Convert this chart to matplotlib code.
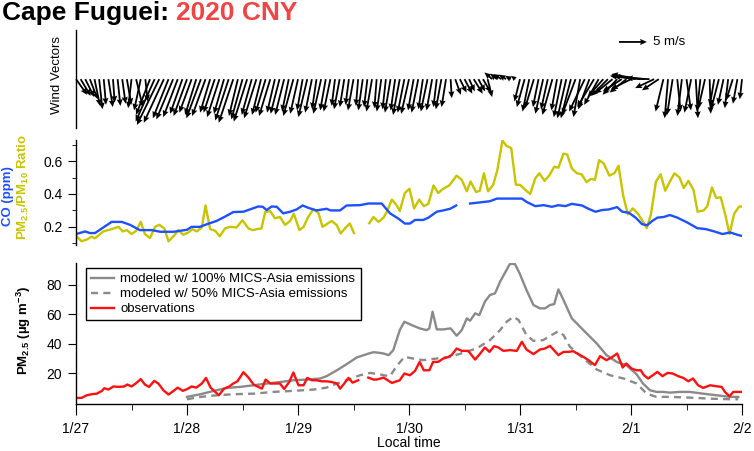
import numpy as np
import matplotlib.pyplot as plt
from matplotlib.ticker import MultipleLocator

plt.rcParams['font.family'] = 'Liberation Sans'
plt.rcParams['mathtext.fontset'] = 'custom'
plt.rcParams['mathtext.rm'] = 'Liberation Sans'
plt.rcParams['mathtext.bf'] = 'Liberation Sans:bold'
plt.rcParams['mathtext.it'] = 'Liberation Sans:italic'

nan = np.nan

# hourly wind vectors (m/s), hour 0 = 1/27 00:00
wind_u = [2.0, 1.8, 1.6, 1.4,
          1.0, 0.6, 0.4, 0.8, 0.3, 0.5, 0.6,
          0.8, -0.6, 1.2, -1.2, 0.4,
          -2.5, -3.4, -4.0, -3.6, -2.8, -3.0, -2.6, -2.2, -2.4,
          -2.2, -2.0, -2.6, -2.4, -1.8,
          -2.0, -2.2, -1.8, -2.4, -2.6, -1.6, -2.0, -2.4, -1.8, -2.2, -1.6, -1.8, -2.0, -1.4, -1.6,
          -1.6, -1.2, -1.8, -1.4, -1.0, -1.6, -1.2, -0.8, -1.4, -1.0, -1.2, -0.6, -1.0,
          -0.8, -0.6, -1.0, -0.4, -0.8, -0.6, -1.0, -0.4, -0.8, -0.6, -1.0, -0.8, -1.2,
          -1.2, -1.4, -1.0, -1.2, -0.8, -1.2, -1.0, -0.6, -1.0, -0.8, 0.2,
          1.0, 1.2, 1.4, 1.0, 1.6, 1.2, 1.4, 0.8,
          -1.4, -1.2, -1.5, -1.3, -1.0, -0.8,
          -1.0, -1.4, -1.2, -1.6, -1.0, -1.4, -1.2, -1.8, -1.0, -1.4, -1.6,
          -1.8, -2.4, -1.2, -2.8, -2.0, -3.0, -2.6,
          -2.8, -3.0, -3.2, -2.6, -3.4, -3.0, -3.6,
          -4.6, -5.2, -5.6, -4.2,
          -3.4, -3.0, -1.4,
          -0.6, -1.0, 0.6, -0.8, 0.8, -1.2, 0.4, -0.6, -1.2, 0.2, -0.8, -1.4, -1.0, -0.6, -1.2, -0.8, -0.4]
wind_v = [-2.8, -3.0, -3.2, -3.6,
          -4.8, -5.4, -4.6, -5.0, -4.2, -4.8, -4.4,
          -4.6, -5.2, -5.0, -5.6, -4.0,
          -6.4, -7.6, -8.2, -7.8, -7.0, -7.2, -6.8, -6.2, -6.6,
          -6.0, -6.4, -7.0, -6.6, -6.0,
          -6.0, -6.8, -6.2, -7.4, -7.8, -6.6, -7.2, -7.6, -6.4, -7.0, -6.4, -6.0, -6.6, -6.0, -6.2,
          -6.4, -5.8, -6.6, -6.2, -5.6, -6.8, -6.0, -5.4, -6.2, -5.6, -5.8, -4.8, -5.4,
          -5.0, -4.6, -5.6, -4.8, -5.6, -5.0, -5.8, -5.2, -5.8, -5.4, -6.0, -5.6, -6.4,
          -6.0, -6.2, -5.6, -6.0, -5.4, -5.8, -5.6, -5.0, -5.4, -5.0, -3.4,
          -2.8, -2.4, -2.6, -2.2, -2.6, -2.2, -2.4, -3.2,
          1.2, 1.0, 0.9, 0.8, 0.6, 0.6,
          -4.0, -5.0, -5.8, -5.2, -5.0, -6.2, -5.4, -6.4, -5.6, -6.8, -7.0,
          -7.0, -6.4, -6.8, -5.8, -5.4, -5.0, -4.6,
          -3.2, -3.0, -2.6, -2.8, -2.2, -2.4, -1.8,
          0.6, 0.9, 0.5, 0.2,
          -1.6, -2.0, -5.8,
          -7.0, -6.4, -5.8, -6.6, -5.6, -6.0, -7.0, -5.8, -5.2, -6.2, -4.8, -5.4, -4.6, -5.2, -3.8, -4.4, -3.6]
wind_t = np.arange(len(wind_u))

# CO (ppm)
co_t = [0, 2, 3, 4.1, 5.9, 7.7, 9.9, 11.7, 13.8, 16.4, 18.2, 21.1, 24, 25, 26.8, 28.3, 30.4,
        32.2, 34, 36.2, 38, 39.4, 40.4, 41.2, 42.3, 43.4, 44.8, 46.3, 47.7, 49, 50.2, 52,
        54.2, 55, 57.1, 58.5, 61.4, 63.2, 66.1, 67.9, 69.7, 71.1, 72.2, 73.3, 75.1, 76.2,
        78, 79.4, 80.9, 82.2, 83.7, 85.2, 87.7, 89.5, 91, 93.9, 96.4, 97.4, 99.3, 101.1,
        102.9, 104.3, 105.8, 107.2, 109.4, 110.8, 112.3, 113.7, 115.2, 117, 118.1, 119.5,
        121, 122.4, 123.5, 124.6, 125.7, 127.1, 128.4, 130, 132.2, 134.3, 136.2, 138,
        139.8, 141.4, 143.2, 144.6]
co_v = [0.156, 0.172, 0.162, 0.162, 0.196, 0.23, 0.23, 0.212, 0.18, 0.18, 0.17, 0.17,
        0.182, 0.2, 0.2, 0.216, 0.236, 0.262, 0.29, 0.292, 0.31, 0.324, 0.322, 0.302,
        0.324, 0.322, 0.282, 0.292, 0.306, 0.33, 0.316, 0.3, 0.31, 0.3, 0.3, 0.33, 0.332,
        0.342, 0.342, 0.282, 0.25, 0.22, 0.22, 0.242, 0.242, 0.256, 0.292, 0.3, 0.31,
        0.33, nan, 0.342, 0.35, 0.356, 0.372, 0.372, 0.372, 0.352, 0.326, 0.332, 0.322,
        0.332, 0.326, 0.34, 0.33, 0.31, 0.292, 0.302, 0.306, 0.32, 0.292, 0.286, 0.256,
        0.216, 0.21, 0.236, 0.256, 0.26, 0.272, 0.256, 0.226, 0.192, 0.186, 0.172, 0.156,
        0.166, 0.15, 0.14]

# PM2.5/PM10 ratio
ratio_t = [0, 1.2, 2.3, 3.4, 4.1, 5.9, 7.7, 9.2, 10.1, 11, 12, 13, 14, 14.9, 16, 17.1, 18,
           19.1, 20, 21.2, 22.1, 23.2, 24.3, 25.2, 26.1, 27.2, 28, 29, 30.1, 31.1, 32.2,
           33.3, 34.7, 36, 37.3, 38.2, 39.1, 40.1, 40.9, 42, 43, 44.1, 45.2, 46.3, 47.1,
           48.3, 49.2, 50.2, 51.3, 52.4, 53.3, 54.2, 55.3, 56.4, 57.2, 58.2, 59.2, 60.1,
           61.8, 63.4, 64.3, 65.4, 66.5, 67.2, 68.3, 69.3, 70, 71.1, 72.1, 73.1, 74.2, 75.2,
           76.2, 77.3, 78.3, 79.4, 80.7, 82.3, 83.4, 84.5, 85.3, 86.5, 87.3, 88.2, 89.1,
           90.2, 91.1, 92.2, 93.1, 94.1, 95.1, 96, 97.1, 98.2, 99.3, 100.2, 101.3, 102.3,
           103.4, 104.3, 105.4, 106.2, 107.2, 108.3, 109.3, 110.4, 111.3, 112.2, 113.1,
           114.1, 115.3, 116.4, 117.3, 118.3, 119.3, 120.4, 121.5, 122.5, 123.4, 124.3,
           125.4, 126.4, 127.4, 128.4, 129.4, 130.5, 131.4, 132.4, 133.5, 134.4, 135.7,
           136.5, 137.5, 138.4, 139.4, 140.4, 141.3, 142.3, 143.4, 144.3]
ratio_v = [0.146, 0.112, 0.122, 0.14, 0.13, 0.172, 0.186, 0.2, 0.172, 0.18, 0.156, 0.176,
           0.23, 0.156, 0.132, 0.2, 0.212, 0.19, 0.112, 0.146, 0.18, 0.152, 0.166, 0.186,
           0.172, 0.196, 0.33, 0.186, 0.176, 0.142, 0.19, 0.2, 0.196, 0.24, 0.19, 0.18,
           0.186, 0.19, 0.29, 0.296, 0.252, 0.26, 0.212, 0.236, 0.28, 0.18, 0.2, 0.26,
           0.306, 0.286, 0.2, 0.216, 0.236, 0.21, 0.16, 0.192, 0.22, 0.162,
           nan, 0.222, 0.26, 0.23, 0.256, 0.292, 0.366, 0.332, 0.296, 0.406, 0.432, 0.312,
           0.366, 0.326, 0.34, 0.452, 0.406, 0.432, 0.452, 0.512, 0.486, 0.416, 0.476,
           0.412, 0.42, 0.526, 0.416, 0.456, 0.546, 0.726, 0.692, 0.68, 0.456, 0.456,
           0.426, 0.4, 0.496, 0.526, 0.48, 0.512, 0.566, 0.56, 0.646, 0.64, 0.556, 0.526,
           0.52, 0.472, 0.492, 0.486, 0.606, 0.586, 0.512, 0.526, 0.572, 0.392, 0.276,
           0.312, 0.28, 0.236, 0.192, 0.276, 0.476, 0.52, 0.42, 0.476, 0.526, 0.5, 0.436,
           0.48, 0.426, 0.292, 0.3, 0.326, 0.44, 0.376, 0.38, 0.272, 0.156, 0.28, 0.324,
           0.324]

# PM2.5 observations (ug/m3)
obs_t = [0, 1.2, 2.3, 3.4, 4.5, 5.6, 6.1, 7, 8.1, 9.2, 10.4, 11.1, 12, 12.9, 14, 14.9,
         15.8, 16.9, 17.8, 18.9, 20, 21.1, 22, 23.1, 24.1, 25, 26, 27.2, 28.1, 29.1, 30.1,
         30.9, 32, 33, 34, 34.9, 36.2, 37.3, 38.4, 39.4, 40.2, 41, 42, 43, 44.1, 45, 46.1,
         47, 48.1, 49.2, 50, 51, 52, 53.1, 54.2, 55.3, 56.4, 57.1, 58, 58.9, 59.8, 61,
         62.1, 63.2, 64.3, 65, 66.5, 68.3, 70, 71, 72.2, 73.3, 74.3, 75.2, 76.4, 77.2,
         78.3, 79.4, 80.5, 81.2, 82.3, 83.4, 84.8, 86.3, 87.4, 88.4, 89.4, 90.4, 91.3,
         92.4, 93.8, 95.3, 96.4, 97.4, 98.9, 100.3, 101.4, 102.5, 104.3, 105.4, 106.5,
         107.5, 108.6, 109.7, 110.8, 112.2, 113.3, 114.7, 115.8, 117, 118.2, 119, 120.1,
         121.2, 122.1, 122.8, 123.7, 124.7, 125.7, 126.8, 127.9, 129, 130.2, 131.3, 132.4,
         133.4, 134.5, 135.6, 137.1, 138.5, 139.6, 140.3, 141.3, 142.1, 142.9, 144.3]
obs_v = [3.2, 3.2, 5, 5.7, 6.1, 8, 9.8, 8.9, 11, 10.7, 11, 12.3, 11, 13, 16, 12.3, 10.7,
         14.8, 13, 8.4, 5.5, 8, 10.2, 8, 9.3, 11, 10.2, 13, 16.8, 10.2, 7.3, 5, 9.5, 10.7,
         13, 14.5, 20.7, 17, 12.3, 10.7, 9.5, 15.7, 13, 13, 13, 9.3, 14, 20.5, 11.8, 11.8,
         16.8, 15.2, 15.2, 14.5, 14.5, 14, 13, 9.5, 13, 16.8, 13.6, 15.2,
         nan, 17, 15.7, 15.7, 17, 13.4, 15.2, 19.8, 18.6, 21.6, 27.7, 22, 22, 27.7, 27.7,
         30, 31.1, 32.3, 36.8, 35.2, 35.2, 29.3, 33.4, 37.5, 34.5, 38.4, 37.5, 35.2, 35.7,
         35.2, 41.4, 36.1, 33, 36.1, 36.8, 38.6, 32.3, 34.5, 34.5, 35, 33, 31.1, 28.9,
         25.5, 31.6, 28.9, 30.7, 33.4, 23.9, 26.6, 23.2, 22, 22, 18.6, 16.4, 18.6, 20.9,
         18, 20.2, 19.8, 18, 16.8, 14.5, 16.4, 11.8, 10, 11.8, 11.1, 10.7, 7.3, 4.3, 7.3,
         7.3, 7.3]

# modeled w/ 100% emissions
m100_t = [24, 26.9, 29.8, 32.6, 35.5, 38.4, 41.3, 44.1, 47, 49.9, 52.8, 54.2, 56.4, 58.5,
          60.7, 62.9, 64.3, 65.5, 66.5, 67.6, 68.6, 70, 71, 72.6, 74.3, 75.8, 76.4, 77.1,
          78, 79.4, 81, 82.3, 83.4, 84.5, 85.2, 86.3, 87.2, 88.4, 89.5, 90.6, 91.7, 92.7,
          93.8, 94.9, 95.9, 97.4, 98.9, 100.3, 101.4, 102.5, 103.4, 104.3, 105.4, 107.2,
          109.7, 112.6, 114.7, 116.9, 119, 121.2, 122.6, 124.1, 125.5, 126.9, 128.4, 130.5,
          132.7, 135.6, 138.5, 141.4, 143.2]
m100_v = [3.9, 5.7, 8, 10, 10.7, 11.8, 13, 14, 15.2, 15.7, 16.4, 18, 22, 26.1, 30.7, 33,
          34.3, 33.9, 33.4, 32.3, 35.7, 49.3, 55, 52.7, 50.5, 49.3, 50.5, 61.8, 49.8, 49.8,
          50.5, 45.5, 49.3, 57.3, 55.7, 60.7, 59.5, 68.6, 73.2, 74.3, 82.3, 88, 94.3, 94.3,
          88, 76.6, 66.4, 64.1, 64.1, 66.4, 67, 77, 69.8, 57.3, 49.3, 40.2, 32.3, 27.7,
          25.5, 19.3, 13, 8.4, 7.3, 7.3, 6.8, 7.3, 7.3, 6.1, 5, 3.9, 3.9]

# modeled w/ 50% emissions
m50_t = [24, 26.9, 30.5, 34, 38.4, 42.7, 47, 51.4, 54.2, 56.4, 58.5, 61.4, 63.6, 65.7,
         66.5, 67.9, 69.2, 71, 72.9, 75, 78, 80.9, 83.7, 86.6, 89.5, 91.7, 93.1, 94.6,
         95.7, 97.4, 98.9, 101, 102.8, 104.3, 105.4, 106.8, 109.7, 112.6, 115.5, 118.4,
         121.2, 123.4, 125.5, 128.4, 132.7, 137.1, 141.4, 143.2]
m50_v = [2.3, 3.9, 5, 5.7, 6.1, 7.3, 8, 8.9, 10.2, 13, 15.2, 18.6, 20.2, 19.3, 18.6, 18,
         24.3, 31.1, 30, 28.9, 30, 31.1, 33.9, 36.8, 42.5, 49.3, 55, 58.4, 56.1, 45.9, 42,
         42.5, 45.9, 48.6, 45.9, 38, 30, 22.5, 18.6, 16.4, 13, 6.1, 3.9, 3.9, 3.4, 2.7,
         2.3, 2.3]

day_ticks = [0, 24, 48, 72, 96, 120, 144]
day_labels = ['1/27', '1/28', '1/29', '1/30', '1/31', '2/1', '2/2']

fig = plt.figure(figsize=(7.54, 4.51), dpi=100)
ax_w = fig.add_axes([0.1008, 0.716, 0.8833, 0.217])
ax_m = fig.add_axes([0.1008, 0.457, 0.8833, 0.233])
ax_p = fig.add_axes([0.1008, 0.104, 0.8833, 0.313])

# wind vectors
q = ax_w.quiver(wind_t, np.zeros(len(wind_t)), wind_u, wind_v, angles='uv',
                scale_units='inches', scale=17.9, units='dots', width=1.8,
                headwidth=3.4, headlength=3.8, headaxislength=3.4, color='black',
                pivot='tail', clip_on=False)
ax_w.quiverkey(q, X=0.858, Y=0.907, U=5, label='5 m/s', labelpos='E',
               coordinates='figure', labelsep=0.06, fontproperties={'size': 9.5})
ax_w.set_xlim(0, 144)
ax_w.set_ylim(-1, 1)
for s in ['top', 'right', 'bottom']:
    ax_w.spines[s].set_visible(False)
ax_w.set_xticks([])
ax_w.set_yticks([])

# CO and ratio
ax_m.plot(ratio_t, ratio_v, color='#c8c400', lw=1.7)
ax_m.plot(co_t, co_v, color='#1e50ff', lw=1.7)
ax_m.set_xlim(0, 144)
ax_m.set_ylim(0.09, 0.73)
for s in ['top', 'right', 'bottom']:
    ax_m.spines[s].set_visible(False)
ax_m.set_xticks([])
ax_m.set_yticks([0.2, 0.4, 0.6])
ax_m.yaxis.set_minor_locator(MultipleLocator(0.1))
ax_m.tick_params(axis='y', which='major', length=5.5, pad=4, labelsize=10)
ax_m.tick_params(axis='y', which='minor', length=3)

# PM2.5
ax_p.plot(m100_t, m100_v, color='#8a8a8a', lw=1.7,
          label='modeled w/ 100% MICS-Asia emissions')
ax_p.plot(m50_t, m50_v, color='#8a8a8a', lw=1.7, ls=(0, (3, 2.2)),
          label='modeled w/ 50% MICS-Asia emissions')
ax_p.plot(obs_t, obs_v, color='#ff1010', lw=1.7, label='observations')
ax_p.set_xlim(0, 144)
ax_p.set_ylim(-1, 95)
for s in ['top', 'right']:
    ax_p.spines[s].set_visible(False)
ax_p.set_yticks([20, 40, 60, 80])
ax_p.set_xticks(day_ticks)
ax_p.set_xticklabels(day_labels)
ax_p.xaxis.set_minor_locator(MultipleLocator(12))
ax_p.tick_params(axis='y', length=6, pad=4, labelsize=10)
ax_p.tick_params(axis='x', which='major', length=8, pad=5, labelsize=10)
ax_p.tick_params(axis='x', which='minor', length=4.3)
leg = ax_p.legend(loc='upper left', bbox_to_anchor=(0.015, 0.965), borderaxespad=0,
                  fontsize=9.5, handlelength=1.75, handletextpad=0.45,
                  labelspacing=0.2, borderpad=0.4, fancybox=False, framealpha=1,
                  edgecolor='black')
leg.get_frame().set_linewidth(1.0)

for ax in [ax_w, ax_m, ax_p]:
    for s in ax.spines.values():
        s.set_linewidth(1.0)

# labels
fig.text(57 / 754, 1 - 75 / 451, 'Wind Vectors', rotation=90, ha='center', va='center',
         fontsize=9.5)
fig.text(8 / 754, 1 - 196 / 451, 'CO (ppm)', rotation=90, ha='center', va='center',
         fontsize=9.5, fontweight='bold', color='#1e50ff')
fig.text(23 / 754, 1 - 187 / 451, r'PM$_{\mathbf{2.5}}$/PM$_{\mathbf{10}}$ Ratio',
         rotation=90, ha='center', va='center', fontsize=9.5, fontweight='bold',
         color='#c8c400')
fig.text(24 / 754, 1 - 330 / 451, r'PM$_{\mathbf{2.5}}$ (µg m$^{\mathbf{-3}}$)',
         rotation=90, ha='center', va='center', fontsize=9.5, fontweight='bold')
fig.text(409 / 754, 1 - 443 / 451, 'Local time', ha='center', va='center', fontsize=10)

# title in two colours
t1 = fig.text(2 / 754, 1 - 1 / 451, 'Cape Fuguei: ', ha='left', va='top',
              fontsize=19, fontweight='bold')
fig.canvas.draw()
bb = t1.get_window_extent()
fig.text(bb.x1 / fig.bbox.width, 1 - 1 / 451, '2020 CNY', ha='left', va='top',
         fontsize=19, fontweight='bold', color='#f04545')

fig.savefig('out.png', dpi=100)
